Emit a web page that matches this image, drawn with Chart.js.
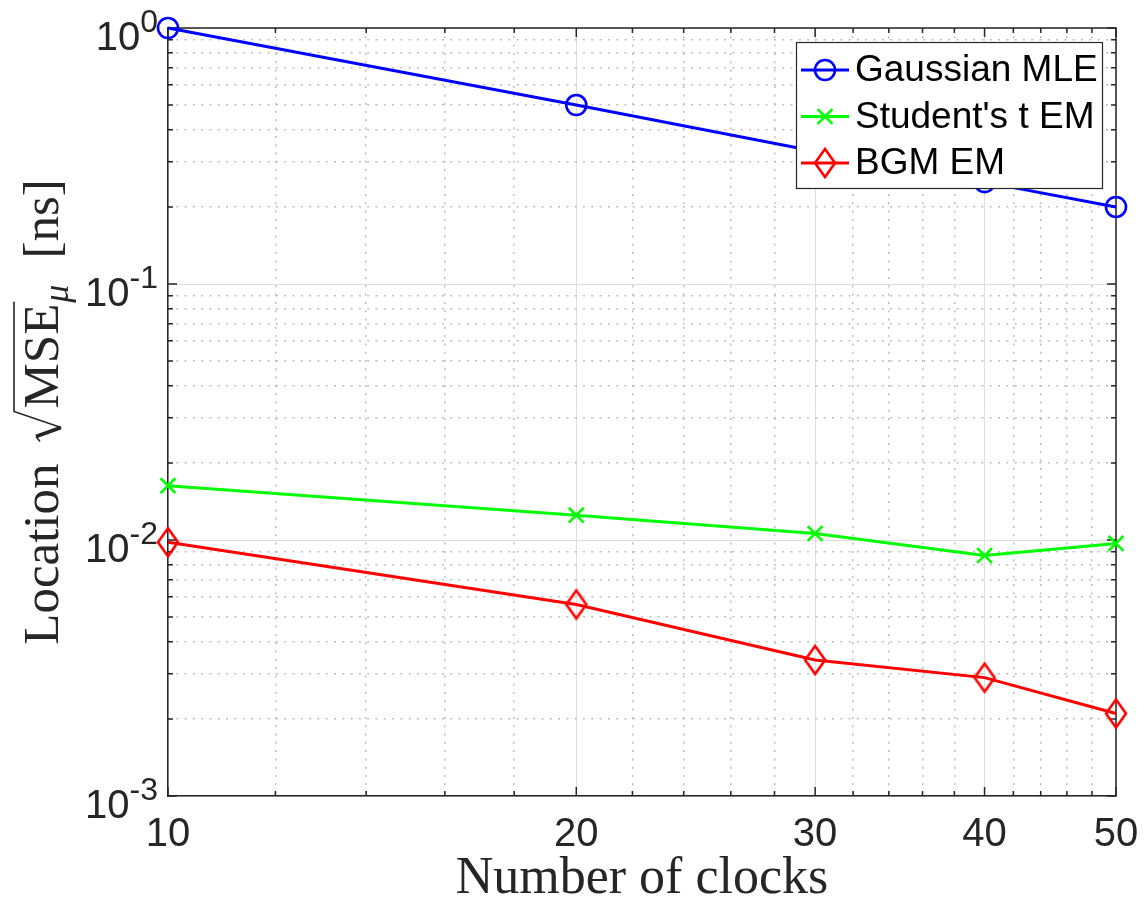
<!DOCTYPE html>
<html>
<head>
<meta charset="utf-8">
<script src="https://cdn.jsdelivr.net/npm/chart.js@4/dist/chart.umd.min.js"></script>
<style>
  html, body { margin: 0; padding: 0; background: #ffffff; }
  #wrap { width: 1144px; height: 907px; }
</style>
</head>
<body>
<div id="wrap"><canvas id="c" width="1144" height="907"></canvas></div>
<script>
// ---- data -------------------------------------------------------------
const clocks      = [10, 20, 30, 40, 50];
const gaussianMLE = [1.0, 0.50, 0.33, 0.25, 0.20];
const studentTEM  = [0.0163, 0.0125, 0.0106, 0.0087, 0.0097];
const bgmEM       = [0.0098, 0.0056, 0.0034, 0.0029, 0.0021];
const seriesLabels = ['Gaussian MLE', "Student's t EM", 'BGM EM'];

// ---- ticks --------------------------------------------------------------
const xMajorTicks = [10, 20, 30, 40, 50];
const xMinorTicks = [12, 14, 16, 18, 22, 24, 26, 28, 32, 34, 36, 38, 42, 44, 46, 48];
const yMajorTicks = [0.001, 0.01, 0.1, 1];
const yTickExponents = ['-3', '-2', '-1', '0'];
const yMinorTicks = [
  0.002, 0.003, 0.004, 0.005, 0.006, 0.007, 0.008, 0.009,
  0.02, 0.03, 0.04, 0.05, 0.06, 0.07, 0.08, 0.09,
  0.2, 0.3, 0.4, 0.5, 0.6, 0.7, 0.8, 0.9
];
const xTitle = 'Number of clocks';

// ---- styling ------------------------------------------------------------
const AXIS_COLOR = '#262626';
const SANS = '"Liberation Sans", Arial, sans-serif';
const SERIF = '"Liberation Serif", "Times New Roman", serif';

function makeDiamond(color, halfW, halfH, lw) {
  const c = document.createElement('canvas');
  const pad = 4;
  c.width = 2 * (halfW + pad);
  c.height = Math.round(2 * (halfH + pad));
  const g = c.getContext('2d');
  const cx = c.width / 2, cy = c.height / 2;
  g.strokeStyle = color;
  g.lineWidth = lw;
  g.lineJoin = 'miter';
  g.beginPath();
  g.moveTo(cx, cy - halfH);
  g.lineTo(cx + halfW, cy);
  g.lineTo(cx, cy + halfH);
  g.lineTo(cx - halfW, cy);
  g.closePath();
  g.stroke();
  return c;
}
const diamondRed = makeDiamond('#ff0000', 10, 14, 2.6);

const toPoints = (ys) => clocks.map((x, i) => ({ x: x, y: ys[i] }));

const datasets = [
  {
    label: seriesLabels[0], data: toPoints(gaussianMLE),
    borderColor: '#0000ff', borderWidth: 3,
    pointStyle: 'circle', pointRadius: 10, pointBorderWidth: 2.6,
    pointBorderColor: '#0000ff', pointBackgroundColor: 'rgba(0,0,0,0)',
    order: 3
  },
  {
    label: seriesLabels[1], data: toPoints(studentTEM),
    borderColor: '#00ff00', borderWidth: 3,
    pointStyle: 'crossRot', pointRadius: 10.5, pointBorderWidth: 2.6,
    pointBorderColor: '#00ff00', pointBackgroundColor: 'rgba(0,0,0,0)',
    order: 2
  },
  {
    label: seriesLabels[2], data: toPoints(bgmEM),
    borderColor: '#ff0000', borderWidth: 3,
    pointStyle: diamondRed, pointRadius: 11, pointBorderWidth: 2.6,
    pointBorderColor: '#ff0000', pointBackgroundColor: 'rgba(0,0,0,0)',
    order: 1
  }
];

// ---- marker drawing shared by the legend -------------------------------
function drawMarker(ctx, ds, x, y) {
  ctx.save();
  ctx.strokeStyle = ds.pointBorderColor;
  ctx.lineWidth = ds.pointBorderWidth;
  const st = ds.pointStyle;
  if (typeof st === 'object') {
    ctx.drawImage(st, x - st.width / 2, y - st.height / 2);
  } else if (st === 'circle') {
    ctx.beginPath();
    ctx.arc(x, y, ds.pointRadius, 0, Math.PI * 2);
    ctx.stroke();
  } else if (st === 'crossRot') {
    const d = ds.pointRadius * Math.SQRT1_2;
    ctx.beginPath();
    ctx.moveTo(x - d, y - d); ctx.lineTo(x + d, y + d);
    ctx.moveTo(x - d, y + d); ctx.lineTo(x + d, y - d);
    ctx.stroke();
  }
  ctx.restore();
}

// ---- axes box with inward tick marks ------------------------------------
const boxPlugin = {
  id: 'boxTicks',
  beforeDatasetsDraw(chart) {
    const { ctx, chartArea: a, scales } = chart;
    const xs = scales.x, ys = scales.y;
    ctx.save();
    ctx.strokeStyle = AXIS_COLOR;
    ctx.lineWidth = 1.5;
    ctx.beginPath();
    const tick = (vals, len) => {
      vals.forEach(v => {
        const px = xs.getPixelForValue(v);
        ctx.moveTo(px, a.bottom); ctx.lineTo(px, a.bottom - len);
        ctx.moveTo(px, a.top); ctx.lineTo(px, a.top + len);
      });
    };
    const ytick = (vals, len) => {
      vals.forEach(v => {
        const py = ys.getPixelForValue(v);
        ctx.moveTo(a.left, py); ctx.lineTo(a.left + len, py);
        ctx.moveTo(a.right, py); ctx.lineTo(a.right - len, py);
      });
    };
    tick(xMajorTicks, 9);
    tick(xMinorTicks, 5);
    ytick(yMajorTicks, 9);
    ytick(yMinorTicks, 5);
    ctx.stroke();
    ctx.beginPath();
    ctx.moveTo(a.left, a.top); ctx.lineTo(a.right, a.top); ctx.lineTo(a.right, a.bottom);
    ctx.stroke();
    ctx.restore();
  }
};

// ---- y tick labels (power of ten), titles and legend --------------------
const decorPlugin = {
  id: 'decor',
  afterDraw(chart) {
    const { ctx, chartArea: a, scales } = chart;
    const ys = scales.y;
    ctx.save();
    ctx.fillStyle = AXIS_COLOR;
    ctx.textAlign = 'left';
    ctx.textBaseline = 'alphabetic';

    // y tick labels as 10^k
    const baseFont = '40px ' + SANS;
    const supFont = '32px ' + SANS;
    const rightEdge = 158;
    yMajorTicks.forEach((v, i) => {
      const py = ys.getPixelForValue(v);
      const sup = yTickExponents[i];
      ctx.font = supFont;
      const wSup = ctx.measureText(sup).width;
      ctx.fillText(sup, rightEdge - wSup, py + 4);
      ctx.font = baseFont;
      const wBase = ctx.measureText('10').width;
      ctx.fillText('10', rightEdge - wSup - wBase, py + 22);
    });

    // x title
    ctx.font = '52px ' + SERIF;
    ctx.textAlign = 'center';
    ctx.fillText(xTitle, (a.left + a.right) / 2, 893);

    // y title: Location sqrt(MSE_mu) [ns]
    ctx.save();
    ctx.translate(58, (a.top + a.bottom) / 2);
    ctx.rotate(-Math.PI / 2);
    ctx.textAlign = 'left';
    ctx.strokeStyle = AXIS_COLOR;
    const mainF = '51px ' + SERIF;
    const subF = 'italic 36px ' + SERIF;
    ctx.font = mainF;
    const wLoc = ctx.measureText('Location').width;
    const wMSE = ctx.measureText('MSE').width;
    const wNs = ctx.measureText('[ns]').width;
    ctx.font = subF;
    const wMu = ctx.measureText('\u03bc').width;
    const gapRad = 22, wRad = 30, gapMSE = 3, gapMu = 1, gapNs = 26;
    const total = wLoc + gapRad + wRad + gapMSE + wMSE + gapMu + wMu + gapNs + wNs;
    let u = -total / 2;
    ctx.font = mainF;
    ctx.fillText('Location', u, 0);
    u += wLoc + gapRad;
    const barY = -44;
    ctx.lineCap = 'butt';
    ctx.lineJoin = 'miter';
    ctx.beginPath(); ctx.lineWidth = 1.6;
    ctx.moveTo(u, -18); ctx.lineTo(u + 5, -22); ctx.stroke();
    ctx.beginPath(); ctx.lineWidth = 3.6;
    ctx.moveTo(u + 5, -22); ctx.lineTo(u + 14, 3); ctx.stroke();
    ctx.beginPath(); ctx.lineWidth = 1.6;
    ctx.moveTo(u + 14, 3); ctx.lineTo(u + wRad, barY);
    ctx.lineTo(u + wRad + gapMSE + wMSE + 2, barY); ctx.stroke();
    u += wRad + gapMSE;
    ctx.fillText('MSE', u, 0);
    u += wMSE + gapMu;
    ctx.font = subF;
    ctx.fillText('\u03bc', u, 10);
    u += wMu + gapNs;
    ctx.font = mainF;
    ctx.fillText('[ns]', u, 0);
    ctx.restore();

    // legend box (north-east)
    const lw = 306, lh = 146;
    const lx = a.right - 14 - lw, ly = a.top + 14;
    ctx.fillStyle = '#ffffff';
    ctx.fillRect(lx, ly, lw, lh);
    ctx.strokeStyle = AXIS_COLOR;
    ctx.lineWidth = 1.2;
    ctx.strokeRect(lx + 0.5, ly + 0.5, lw, lh);
    ctx.font = '37px ' + SANS;
    ctx.textAlign = 'left';
    ctx.textBaseline = 'middle';
    chart.data.datasets.forEach((ds, i) => {
      const ry = ly + 28 + i * 46.5;
      ctx.strokeStyle = ds.borderColor;
      ctx.lineWidth = ds.borderWidth;
      ctx.beginPath();
      ctx.moveTo(lx + 5, ry); ctx.lineTo(lx + 53, ry);
      ctx.stroke();
      drawMarker(ctx, ds, lx + 29, ry);
      ctx.fillStyle = '#000000';
      ctx.fillText(ds.label, lx + 59, ry + 1);
    });
    ctx.restore();
  }
};

// ---- chart ----------------------------------------------------------------
new Chart(document.getElementById('c'), {
  type: 'line',
  data: { datasets: datasets },
  options: {
    responsive: false,
    animation: false,
    devicePixelRatio: 1,
    events: [],
    clip: false,
    layout: { padding: { top: 28, right: 28, left: 0, bottom: 0 } },
    elements: { line: { tension: 0 } },
    plugins: { legend: { display: false }, tooltip: { enabled: false } },
    scales: {
      x: {
        type: 'logarithmic', position: 'bottom', min: 10, max: 50,
        afterBuildTicks: (s) => { s.ticks = xMajorTicks.map(v => ({ value: v })); },
        afterFit: (s) => { s.height = 111; s.paddingLeft = 0; s.paddingRight = 0; },
        ticks: {
          callback: (v) => String(v), autoSkip: false, maxRotation: 0,
          color: AXIS_COLOR, padding: 15, font: { family: SANS, size: 40 }
        },
        grid: { color: '#dedede', lineWidth: 1, drawTicks: false },
        border: { display: true, color: AXIS_COLOR, width: 1.5 }
      },
      xMinor: {
        type: 'logarithmic', position: 'bottom', min: 10, max: 50,
        afterBuildTicks: (s) => { s.ticks = xMinorTicks.map(v => ({ value: v })); },
        afterFit: (s) => { s.height = 0; s.paddingLeft = 0; s.paddingRight = 0; },
        ticks: { display: false },
        grid: { color: '#bdbdbd', lineWidth: 1.5, drawTicks: false },
        border: { display: false, dash: [2, 6.3] }
      },
      y: {
        type: 'logarithmic', position: 'left', min: 0.001, max: 1,
        afterBuildTicks: (s) => { s.ticks = yMajorTicks.map(v => ({ value: v })); },
        afterFit: (s) => { s.width = 168; s.paddingTop = 0; s.paddingBottom = 0; },
        ticks: { display: false },
        grid: { color: '#dedede', lineWidth: 1, drawTicks: false },
        border: { display: true, color: AXIS_COLOR, width: 1.5 }
      },
      yMinor: {
        type: 'logarithmic', position: 'left', min: 0.001, max: 1,
        afterBuildTicks: (s) => { s.ticks = yMinorTicks.map(v => ({ value: v })); },
        afterFit: (s) => { s.width = 0; s.paddingTop = 0; s.paddingBottom = 0; },
        ticks: { display: false },
        grid: { color: '#bdbdbd', lineWidth: 1.5, drawTicks: false },
        border: { display: false, dash: [2, 6.3] }
      }
    }
  },
  plugins: [boxPlugin, decorPlugin]
});
</script>
</body>
</html>
